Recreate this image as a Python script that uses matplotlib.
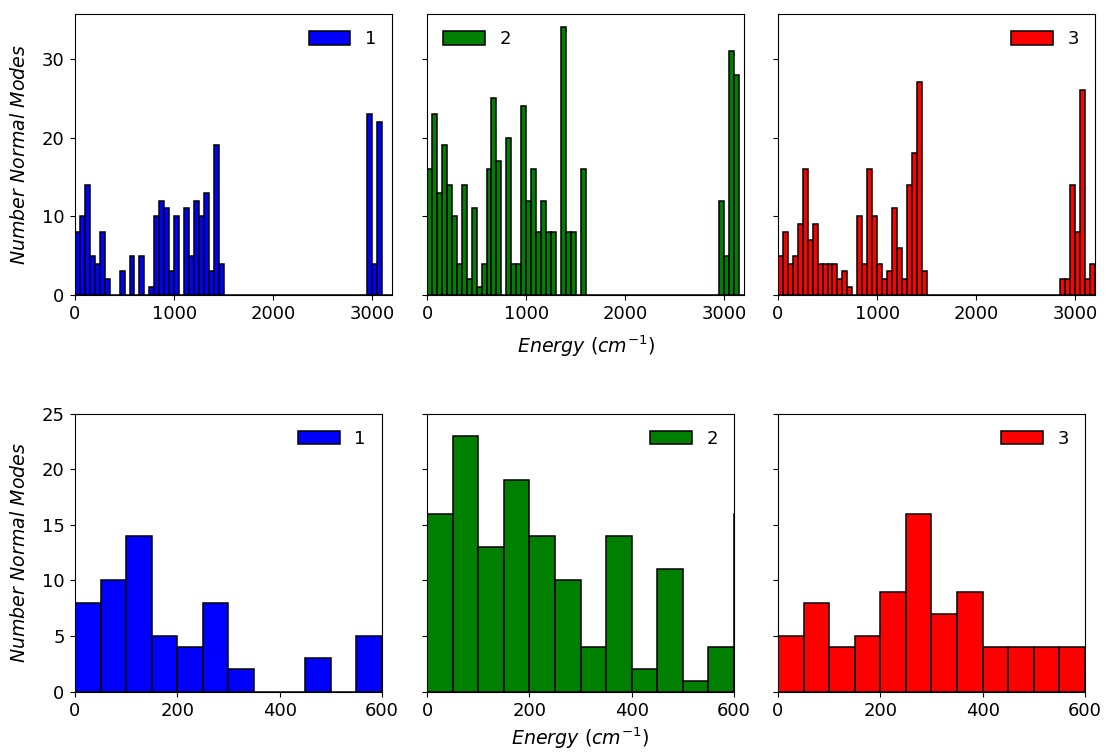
import numpy as np
import matplotlib
matplotlib.use("Agg")
import matplotlib.pyplot as plt

plt.rcParams['font.size'] = 13

# histogram bins: 50 cm^-1 wide, 0 .. 3200 cm^-1
bin_width = 50
bin_edges = np.arange(0, 3200 + bin_width, bin_width)

# number of normal modes per bin for each molecule
counts_1 = np.zeros(64)
counts_1[0:30] = [8, 10, 14, 5, 4, 8, 2, 0, 0, 3, 0, 5, 0, 5, 0,
                  1, 10, 12, 11, 3, 10, 0, 11, 5, 12, 10, 13, 3, 19, 4]
counts_1[59:62] = [23, 4, 22]

counts_2 = np.zeros(64)
counts_2[0:32] = [16, 23, 13, 19, 14, 10, 4, 14, 2, 11, 1, 4, 16, 25, 17, 0,
                  20, 4, 4, 24, 12, 16, 8, 12, 8, 8, 0, 34, 8, 8, 0, 16]
counts_2[59:63] = [12, 5, 31, 28]

counts_3 = np.zeros(64)
counts_3[0:30] = [5, 8, 4, 5, 9, 16, 7, 9, 4, 4, 4, 4, 2, 3, 1,
                  0, 10, 4, 16, 10, 4, 2, 3, 11, 6, 2, 14, 18, 27, 3]
counts_3[57:64] = [2, 2, 14, 8, 26, 2, 4]

labels = ["1", "2", "3"]
colors = ["blue", "green", "red"]
all_counts = [counts_1, counts_2, counts_3]

bin_centers = bin_edges[:-1] + bin_width / 2

fig = plt.figure(figsize=(11.06, 7.53), dpi=100)

lefts = [0.0678, 0.3861, 0.7034]
top_axes = []
bottom_axes = []
for i in range(3):
    ax_t = fig.add_axes([lefts[i], 0.6082, 0.2868, 0.3732],
                        sharey=top_axes[0] if top_axes else None)
    ax_b = fig.add_axes([lefts[i], 0.0815, 0.2776, 0.3690],
                        sharey=bottom_axes[0] if bottom_axes else None)
    top_axes.append(ax_t)
    bottom_axes.append(ax_b)

# full spectrum on top, low-energy region below
for i in range(3):
    for ax in (top_axes[i], bottom_axes[i]):
        ax.hist(bin_centers, bins=bin_edges, weights=all_counts[i],
                color=colors[i], edgecolor="black", linewidth=1.1,
                label=labels[i])
        ax.tick_params(pad=4)
    top_axes[i].set_xlim(0, 3200)
    top_axes[i].set_xticks([0, 1000, 2000, 3000])
    bottom_axes[i].set_xlim(0, 600)
    bottom_axes[i].set_xticks([0, 200, 400, 600])
    if i > 0:
        top_axes[i].tick_params(labelleft=False)
        bottom_axes[i].tick_params(labelleft=False)

top_axes[0].set_yticks([0, 10, 20, 30])
bottom_axes[0].set_ylim(0, 25)
bottom_axes[0].set_yticks([0, 5, 10, 15, 20, 25])

leg_kw = dict(frameon=False, handlelength=2.3, handleheight=0.75)
top_axes[0].legend(loc="upper right", **leg_kw)
top_axes[1].legend(loc="upper left", **leg_kw)
top_axes[2].legend(loc="upper right", **leg_kw)
for ax in bottom_axes:
    ax.legend(loc="upper right", **leg_kw)

ylab = r"$Number\ Normal\ Modes$"
xlab = r"$Energy\ (cm^{-1})$"
top_axes[0].set_ylabel(ylab, fontsize=13.7, labelpad=9)
bottom_axes[0].set_ylabel(ylab, fontsize=13.7, labelpad=9)
top_axes[1].set_xlabel(xlab, fontsize=13.7, labelpad=7)
bottom_axes[1].set_xlabel(xlab, fontsize=13.7, labelpad=4)

fig.savefig("out.png", dpi=100)
